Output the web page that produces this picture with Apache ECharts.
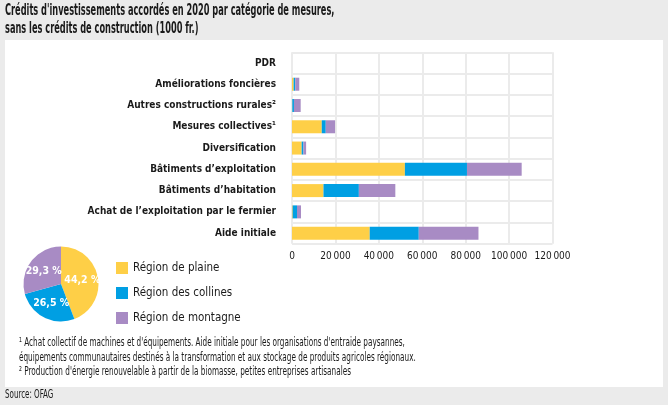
<!DOCTYPE html>
<html><head><meta charset="utf-8">
<script src="https://cdn.jsdelivr.net/npm/echarts@6/dist/echarts.min.js"></script>
<style>html,body{margin:0;padding:0;background:#ebebeb}#c{width:668px;height:405px}</style>
</head><body><div id="c"></div>
<script>
const categories = ["PDR","Améliorations foncières","Autres constructions rurales²","Mesures collectives¹","Diversification","Bâtiments d’exploitation","Bâtiments d’habitation","Achat de l’exploitation par le fermier","Aide initiale"];
const plaine   = [0, 750, 150, 13700, 4450, 52000, 14500, 300, 35800];
const collines = [0, 750, 750, 1850, 800, 28600, 16300, 2000, 22600];
const montagne = [0, 1850, 3100, 4300, 1250, 25200, 16800, 1850, 27500];
const seriesNames = ["Région de plaine","Région des collines","Région de montagne"];
const pieShares = [44.2, 26.5, 29.3];
const xTicks = [0, 20000, 40000, 60000, 80000, 100000, 120000];
const titleLines = ["Crédits d'investissements accordés en 2020 par catégorie de mesures,", "sans les crédits de construction (1000 fr.)"];
const footnotes = ["¹ Achat collectif de machines et d'équipements. Aide initiale pour les organisations d'entraide paysannes,",
  "équipements communautaires destinés à la transformation et aux stockage de produits agricoles régionaux.",
  "² Production d'énergie renouvelable à partir de la biomasse, petites entreprises artisanales"];
const sourceText = "Source: OFAG";
const colors = ["#fecf47","#009fe3","#a88bc4"];
const FONT = "'DejaVu Sans Condensed','DejaVu Sans',sans-serif";
const fmt = v => v === 0 ? "0" : String(v).replace(/\B(?=(\d{3})+(?!\d))/g, "\u2009");

const chart = echarts.init(document.getElementById('c'), null, {renderer:'canvas'});
const barSeries = [plaine, collines, montagne].map((d, i) => ({
  name: seriesNames[i], type: 'bar', stack: 'tot', data: d, barWidth: 13,
  itemStyle: {color: colors[i]}, animation: false
}));
const txt = (s, x, y, size, weight, sx) => ({
  type: 'text', x: x, y: y, scaleX: sx, scaleY: 1, silent: true,
  style: {text: s, fontFamily: FONT, fontSize: size, fontWeight: weight, fill: '#1a1a1a',
    textAlign: 'left', textVerticalAlign: 'middle'}
});
chart.setOption({
  animation: false,
  textStyle: {fontFamily: FONT},
  graphic: [
    {type:'rect', shape:{x:5,y:40,width:658,height:347}, style:{fill:'#fff'}, z:-10, silent:true},
    txt(titleLines[0], 5, 11, 15, 'bold', 0.61),
    txt(titleLines[1], 5, 29, 15, 'bold', 0.61),
    txt(footnotes[0], 19, 343, 12, 'normal', 0.675),
    txt(footnotes[1], 19, 358, 12, 'normal', 0.675),
    txt(footnotes[2], 19, 372, 12, 'normal', 0.675),
    txt(sourceText, 5, 395, 12, 'normal', 0.66)
  ],
  legend: {
    data: seriesNames, orient: 'vertical', left: 116, top: 262, padding: 0,
    itemWidth: 12, itemHeight: 12, itemGap: 13, icon: 'rect',
    textStyle: {fontFamily: FONT, fontSize: 11.5, color: '#1a1a1a'}
  },
  grid: {left: 292, right: 115.5, top: 52.3, height: 191.5, containLabel: false},
  xAxis: {
    type: 'value', min: 0, max: 120000, interval: 20000,
    axisLine: {show: false}, axisTick: {show: false},
    splitLine: {show: true, lineStyle: {color: '#ebebeb', width: 2}},
    axisLabel: {fontFamily: FONT, fontSize: 10, color: '#1a1a1a', margin: 8,
      formatter: v => xTicks.includes(v) ? fmt(v) : ''}
  },
  yAxis: {
    type: 'category', data: categories, inverse: true,
    axisLine: {show: false}, axisTick: {show: false},
    splitLine: {show: true, lineStyle: {color: '#ebebeb', width: 2}},
    axisLabel: {fontFamily: FONT, fontSize: 10, fontWeight: 'bold', color: '#1a1a1a', margin: 16}
  },
  series: [
    ...barSeries,
    {
      type: 'pie', center: [61, 284], radius: 37.5, startAngle: 90, clockwise: true,
      animation: false, silent: true, legendHoverLink: false, avoidLabelOverlap: false,
      data: pieShares.map((v, i) => ({name: seriesNames[i], value: v, itemStyle: {color: colors[i]}})),
      label: {show: true, position: 'inside', color: '#fff', fontFamily: FONT, fontSize: 10.5, fontWeight: 'bold',
        formatter: p => p.value.toFixed(1).replace('.', ',') + ' %'},
      labelLine: {show: false}, itemStyle: {borderWidth: 0}
    }
  ]
});
</script></body></html>
